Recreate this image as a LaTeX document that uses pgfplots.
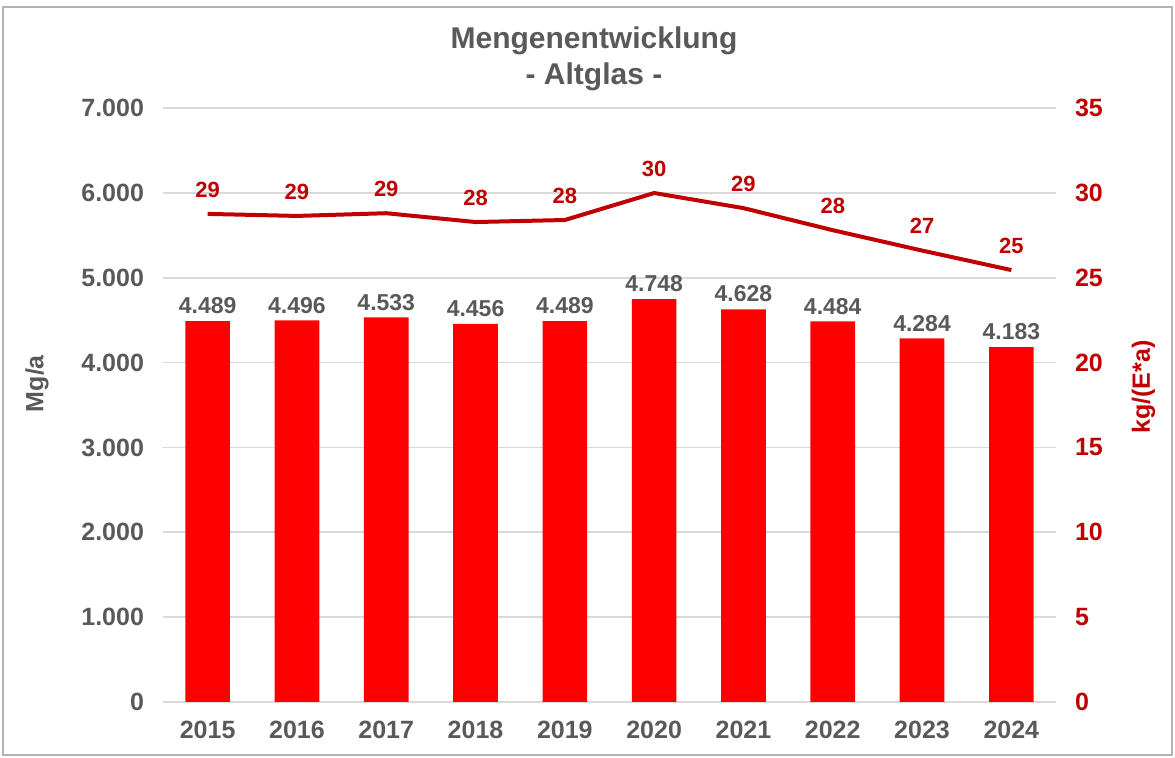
\documentclass[border=0pt]{standalone}
\usepackage{pgfplots}
\pgfplotsset{compat=1.18}
\usepackage{fontspec}
\setmainfont{Liberation Sans}
\definecolor{txtgray}{HTML}{595959}
\definecolor{lred}{HTML}{C00000}
\definecolor{bred}{HTML}{FF0000}
\definecolor{gridgray}{HTML}{D9D9D9}

\pgfplotsset{
  common/.style={
    at={(0,0)}, anchor=south west,
    scale only axis, width=446.5pt, height=297pt,
    xmin=-0.5, xmax=9.5,
    tick style={draw=none},
    /pgf/number format/assume math mode=true,
    /pgf/number format/1000 sep={.},
    ticklabel style={font=\bfseries\fontsize{12.5}{14}\selectfont},
    label style={font=\bfseries\fontsize{12.5}{14}\selectfont},
  }
}

\begin{document}
\begin{tikzpicture}
\useasboundingbox (-81.5pt,-28pt) rectangle (506pt,351pt);
\draw[gray!60, line width=0.7pt] (-80pt,-26.5pt) rectangle (504.5pt,347.5pt);

\begin{axis}[common,
  ymin=0, ymax=7000, ytick={0,1000,...,7000},
  xtick={0,...,9}, xticklabels={2015,2016,2017,2018,2019,2020,2021,2022,2023,2024},
  axis x line*=bottom, axis y line*=left,
  y axis line style={draw=none},
  x axis line style={gridgray, line width=0.8pt, -},
  ymajorgrids, grid style={gridgray, line width=0.8pt},
  ticklabel style={text=txtgray},
  yticklabel style={xshift=-6pt},
  xticklabel style={yshift=-6pt},
  ylabel={Mg/a}, ylabel style={text=txtgray, at={(axis description cs:-0.141,0.536)}, anchor=center},
]
\addplot[ybar, bar width=0.5, fill=bred, draw=none,
  nodes near coords,
  every node near coord/.append style={font=\bfseries\fontsize{11.5}{13}\selectfont, text=txtgray}]
  coordinates {
  (0,4489) (1,4496) (2,4533) (3,4456) (4,4489)
  (5,4748) (6,4628) (7,4484) (8,4284) (9,4183)
};
\end{axis}

\begin{axis}[common,
  ymin=0, ymax=35, ytick={0,5,...,35},
  axis x line=none, axis y line*=right,
  y axis line style={draw=none},
  yticklabel style={text=lred, xshift=6pt},
  ylabel={kg/(E*a)}, ylabel style={text=lred, rotate=0, at={(axis description cs:1.098,0.53)}, anchor=center},
]
\addplot[lred, line width=2pt, mark=none,
  nodes near coords,
  every node near coord/.append style={font=\bfseries\fontsize{11}{13}\selectfont, text=lred, yshift=4pt,
    /pgf/number format/fixed, /pgf/number format/precision=0}]
  coordinates {
  (0,28.76) (1,28.64) (2,28.80) (3,28.28) (4,28.40)
  (5,29.99) (6,29.10) (7,27.80) (8,26.60) (9,25.45)
};
\end{axis}

\node[font=\bfseries\fontsize{15}{18}\selectfont, text=txtgray, align=center] at (215.5pt,321.5pt)
  {Mengenentwicklung\\- Altglas -};
\end{tikzpicture}
\end{document}
